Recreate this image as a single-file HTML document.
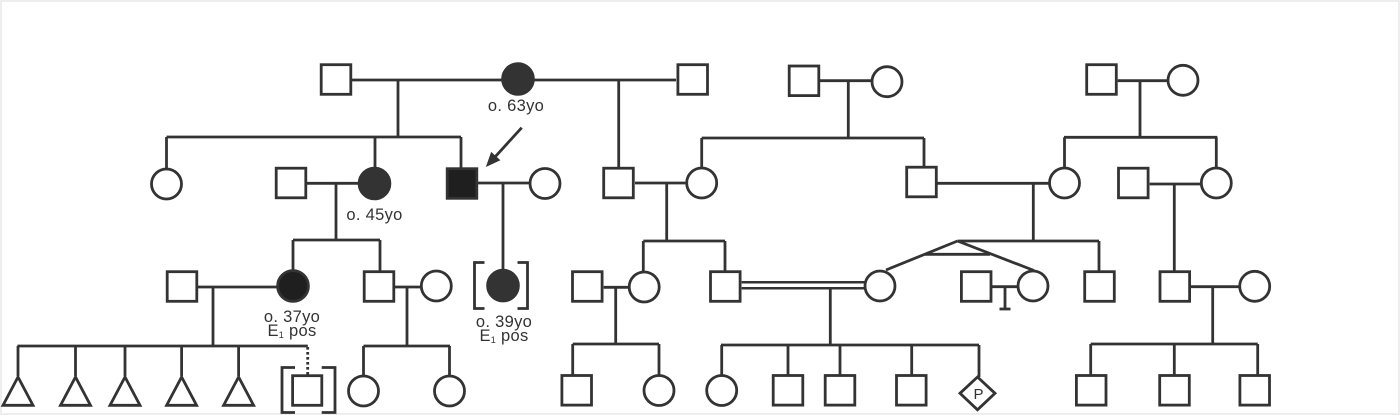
<!DOCTYPE html>
<html>
<head>
<meta charset="utf-8">
<style>
html,body{margin:0;padding:0;background:#fff;}
svg{display:block;}
text{font-family:"Liberation Sans",Arial,sans-serif;fill:#333;}
</style>
</head>
<body>
<svg width="1400" height="415" viewBox="0 0 1400 415" xmlns="http://www.w3.org/2000/svg">
<rect x="1" y="1" width="1398" height="413" fill="#fff" stroke="#eeeeee" stroke-width="2"/>

<g stroke="#333" stroke-width="2.8" fill="none">
<!-- Gen I lines -->
<path d="M352 80 H676"/>
<path d="M398 80 V137"/>
<path d="M166.5 137 H461"/>
<path d="M166.5 137 V169"/>
<path d="M375 137 V168"/>
<path d="M461 137 V168"/>
<path d="M618.7 80 V168"/>
<path d="M820 80.7 H872"/>
<path d="M848.3 80.7 V138"/>
<path d="M701.7 138 H924"/>
<path d="M701.7 138 V168"/>
<path d="M924 138 V167"/>
<path d="M1117.7 80.7 H1168"/>
<path d="M1140 80.7 V137.3"/>
<path d="M1064 137.3 H1217.3"/>
<path d="M1064.5 137.3 V168"/>
<path d="M1216.3 137.3 V168"/>

<!-- Gen II lines -->
<path d="M307 183.3 H359"/>
<path d="M336 183.3 V240"/>
<path d="M478 183 H530"/>
<path d="M503 183 V270"/>
<path d="M635 183 H687"/>
<path d="M666.7 183 V241"/>
<path d="M937 183.3 H1049"/>
<path d="M1033.3 183.3 V241"/>
<path d="M1149.7 184 H1201"/>
<path d="M1174.3 184 V271"/>

<!-- Gen III left -->
<path d="M293 240 H380"/>
<path d="M293 240 V270"/>
<path d="M380 240 V272"/>
<path d="M198 287 H278"/>
<path d="M213 287 V346"/>
<path d="M17.4 346 H307.8"/>
<path d="M18 346 V376"/>
<path d="M75.5 346 V376"/>
<path d="M125 346 V376"/>
<path d="M181.6 346 V376"/>
<path d="M238.6 346 V376"/>
<path d="M307.7 347 V376" stroke-dasharray="2.6 2.4"/>
<path d="M395 287 H421"/>
<path d="M407 287 V346"/>
<path d="M363.5 346 H450"/>
<path d="M363.5 346 V376"/>
<path d="M449.5 346 V376"/>

<!-- Gen III middle -->
<path d="M643.3 241 H725"/>
<path d="M643.3 241 V272"/>
<path d="M725 241 V272"/>
<path d="M603.7 287.3 H630"/>
<path d="M615.7 287.3 V344"/>
<path d="M572.7 344 H659"/>
<path d="M572.7 344 V376"/>
<path d="M659 344 V376"/>
<path d="M741.7 282.3 H865" stroke-width="2.5"/>
<path d="M741.7 288.3 H865" stroke-width="2.5"/>
<path d="M830.3 288 V345"/>
<path d="M721 345 H979"/>
<path d="M721.7 345 V376"/>
<path d="M788 345 V376"/>
<path d="M840 345 V376"/>
<path d="M911.7 345 V376"/>
<path d="M979 345 V377"/>
<!-- twins -->
<path d="M957.5 241 H1099"/>
<path d="M957.5 241 L886 270"/>
<path d="M957.5 241 L1034 270.5"/>
<path d="M925 254.3 H990"/>
<path d="M1099 241 V272"/>
<path d="M992 286.7 H1018"/>
<path d="M1005 286.7 V309"/>
<path d="M999.5 309 H1010.5"/>

<!-- Gen III right -->
<path d="M1191 286.7 H1240"/>
<path d="M1212.7 286.7 V344"/>
<path d="M1090.7 344 H1257.7"/>
<path d="M1090.7 344 V376"/>
<path d="M1174.3 344 V376"/>
<path d="M1257.7 344 V376"/>

<!-- brackets -->
<path d="M484.5 262.5 H474.5 V308.5 H484.5"/>
<path d="M517.5 262.5 H527.5 V308.5 H517.5"/>
<path d="M295 367.5 H282 V412.5 H295"/>
<path d="M321.7 367.5 H335 V412.5 H321.7"/>

<!-- arrow -->
<path d="M521.7 127.7 L495.5 156.4"/>
</g>
<polygon points="486.7,166 499.5,160.1 491.4,152.7" fill="#333" stroke="#333" stroke-width="1"/>

<!-- Shapes -->
<g stroke="#333" stroke-width="2.8" fill="#fff">
<!-- Gen I -->
<rect x="321.2" y="64.7" width="29.6" height="29.6"/>
<rect x="677.9" y="64.7" width="29.6" height="29.6"/>
<rect x="789.2" y="66" width="29.6" height="29.6"/>
<rect x="1086.7" y="64.7" width="29.6" height="29.6"/>
<circle cx="518" cy="79" r="15.4" fill="#333"/>
<circle cx="887" cy="81.7" r="15"/>
<circle cx="1183" cy="80.3" r="15"/>

<!-- Gen II -->
<circle cx="166.5" cy="184" r="15"/>
<rect x="276.2" y="168.2" width="29.6" height="29.6"/>
<circle cx="374.5" cy="183.5" r="15.4" fill="#333"/>
<rect x="447.2" y="168.7" width="29.6" height="29.6" fill="#1f1f1f"/>
<circle cx="545" cy="183.5" r="15"/>
<rect x="603.7" y="168.2" width="29.6" height="29.6"/>
<circle cx="701.7" cy="183" r="15"/>
<rect x="906.7" y="167.2" width="29.6" height="29.6"/>
<circle cx="1064.5" cy="183" r="15"/>
<rect x="1118.5" y="168.2" width="29.6" height="29.6"/>
<circle cx="1216.3" cy="183" r="15"/>

<!-- Gen III -->
<rect x="167.2" y="271.7" width="29.6" height="29.6"/>
<circle cx="293" cy="286" r="15.4" fill="#1f1f1f"/>
<rect x="364.2" y="271.7" width="29.6" height="29.6"/>
<circle cx="436.3" cy="286" r="15"/>
<circle cx="503" cy="285.6" r="15.4" fill="#333"/>
<rect x="572.5" y="271.7" width="29.6" height="29.6"/>
<circle cx="644.2" cy="287" r="15"/>
<rect x="710.5" y="271.7" width="29.6" height="29.6"/>
<circle cx="880" cy="286" r="15"/>
<rect x="961.4" y="271.7" width="29.6" height="29.6"/>
<circle cx="1033" cy="286" r="15"/>
<rect x="1084.7" y="271.7" width="29.6" height="29.6"/>
<rect x="1160" y="271.7" width="29.6" height="29.6"/>
<circle cx="1254.7" cy="286.3" r="15"/>

<!-- Gen IV -->
<polygon points="18,377 3,405.3 33,405.3"/>
<polygon points="75.5,377 60.5,405.3 90.5,405.3"/>
<polygon points="125,377 110,405.3 140,405.3"/>
<polygon points="181.6,377 166.6,405.3 196.6,405.3"/>
<polygon points="238.6,377 223.6,405.3 253.6,405.3"/>
<rect x="292.6" y="375.7" width="29.2" height="29.6"/>
<circle cx="363.5" cy="391" r="15"/>
<circle cx="449.5" cy="391" r="15"/>
<rect x="561.9" y="375.5" width="29.6" height="29.6"/>
<circle cx="659" cy="390.5" r="15"/>
<circle cx="721.7" cy="390.5" r="15"/>
<rect x="773.2" y="375.5" width="29.6" height="29.6"/>
<rect x="825.2" y="375.5" width="29.6" height="29.6"/>
<rect x="896.5" y="375.5" width="29.6" height="29.6"/>
<polygon points="977.5,377 995,393.3 977.5,409.8 960,393.3"/>
<rect x="1076.4" y="375.5" width="29.6" height="29.6"/>
<rect x="1159.7" y="375.5" width="29.6" height="29.6"/>
<rect x="1239.9" y="375.5" width="29.6" height="29.6"/>
</g>

<!-- Labels -->
<g font-size="16.5" text-anchor="middle" letter-spacing="0.3">
<text x="516" y="111">o. 63yo</text>
<text x="374.5" y="220">o. 45yo</text>
<text x="292" y="322">o. 37yo</text>
<text x="292" y="336">E<tspan font-size="9" dy="2">1</tspan><tspan dy="-2"> pos</tspan></text>
<text x="504" y="327">o. 39yo</text>
<text x="504" y="341">E<tspan font-size="9" dy="2">1</tspan><tspan dy="-2"> pos</tspan></text>
</g>
<text x="978.5" y="399" font-size="15" text-anchor="middle">P</text>
</svg>
</body>
</html>
